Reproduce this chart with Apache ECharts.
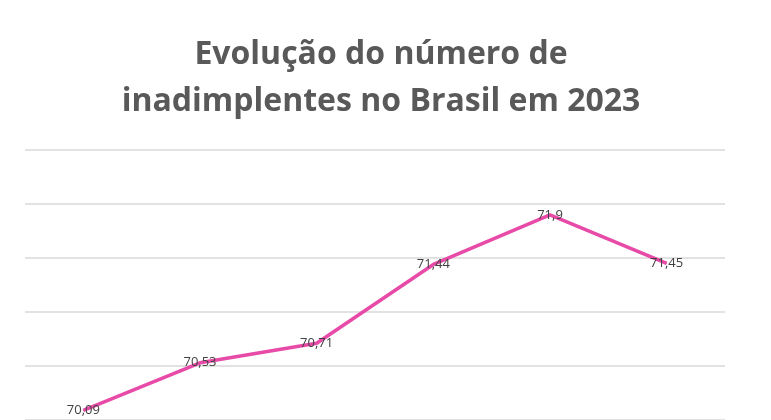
<!DOCTYPE html>
<html><head><meta charset="utf-8">
<script src="https://cdn.jsdelivr.net/npm/echarts@6/dist/echarts.min.js"></script>
<style>html,body{margin:0;padding:0;background:#fff}#c{width:771px;height:420px}</style>
</head><body><div id="c"></div>
<script>
const categories = ['1','2','3','4','5','6'];
const values = [70.09, 70.53, 70.71, 71.44, 71.9, 71.45];
const labels = ['70,09','70,53','70,71','71,44','71,9','71,45'];
const chart = echarts.init(document.getElementById('c'));
chart.setOption({
  animation:false,
  title:{text:'Evolução do número de\ninadimplentes no Brasil em 2023',left:376,textAlign:'center',top:26,
    textStyle:{fontFamily:'Open Sans',fontSize:32,fontWeight:'bold',color:'#595959',lineHeight:47}},
  grid:{left:25,right:46,top:150,bottom:-2,containLabel:false},
  xAxis:{type:'category',data:categories,boundaryGap:true,show:false},
  yAxis:{type:'value',min:70,max:72.5,interval:0.5,axisLabel:{show:false},axisLine:{show:false},axisTick:{show:false},
    splitLine:{lineStyle:{color:'#d9d9d9',width:1.5}}},
  series:[{type:'line',data:values,symbol:'circle',symbolSize:1,showAllSymbol:true,
    itemStyle:{color:'#e84aa8'},lineStyle:{color:'#e84aa8',width:3.5},
    label:{show:true,position:'inside',formatter:p=>labels[p.dataIndex],fontFamily:'Open Sans',fontSize:13,color:'#404040'}}]
});
</script></body></html>
